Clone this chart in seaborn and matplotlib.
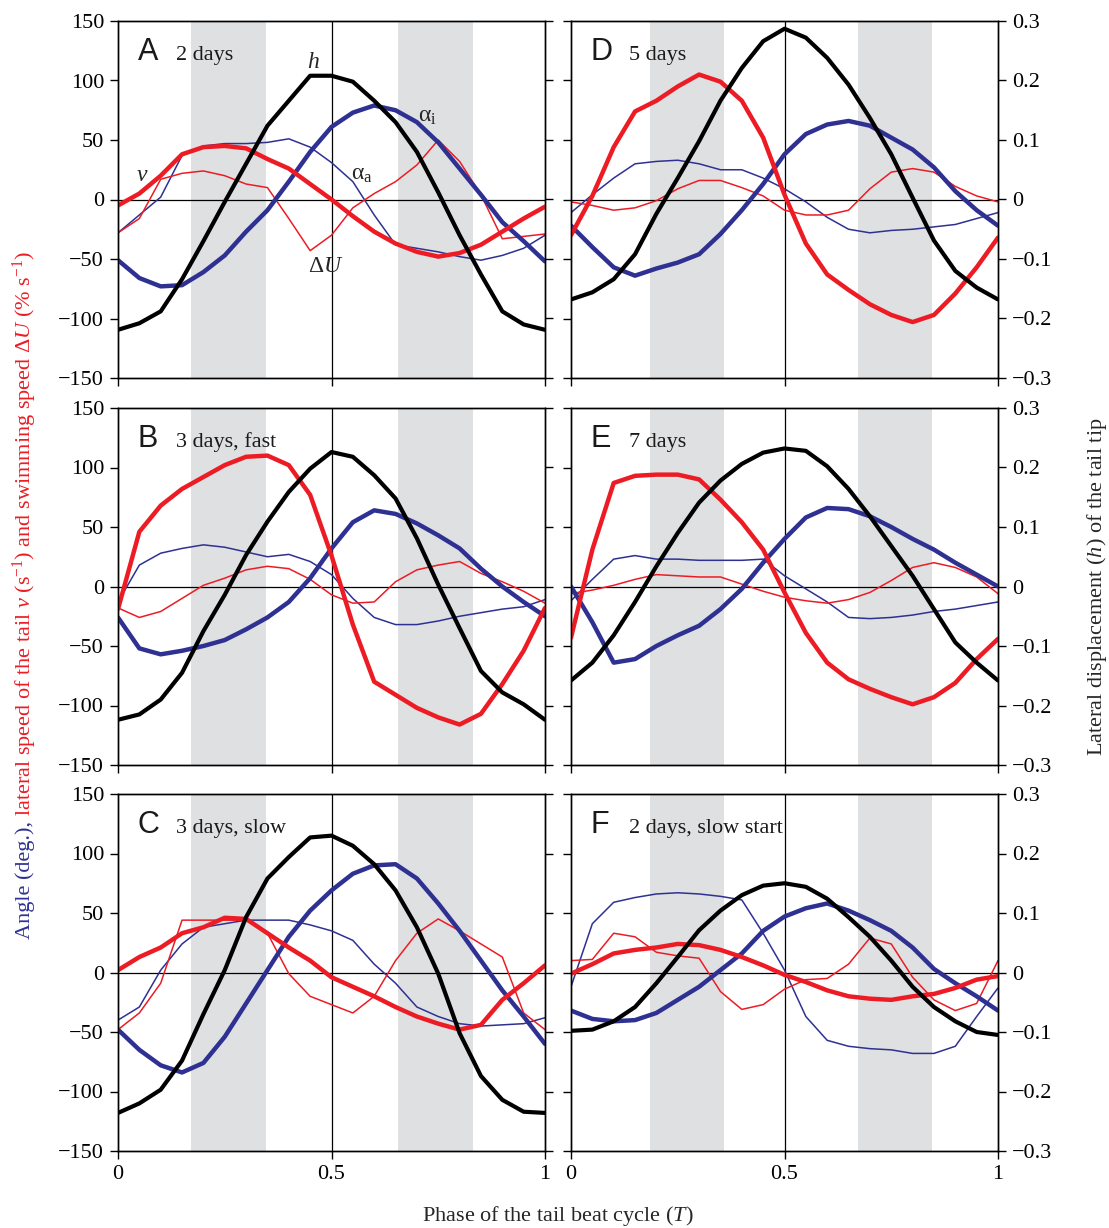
import numpy as np
import pandas as pd
import seaborn as sns
import matplotlib.pyplot as plt

# phase of the tail beat cycle, common sampling for every curve
phase = np.round(np.arange(0, 1.0001, 0.05), 2)

# ---- A: 2 days
a_h = [-0.219, -0.208, -0.188, -0.134, -0.07, -0.004, 0.06, 0.124, 0.166, 0.208, 0.208,
       0.198, 0.166, 0.13, 0.08, 0.012, -0.06, -0.126, -0.188, -0.21, -0.219]
a_ai = [-51, -66, -73, -72, -61, -47, -27, -9, 15, 40, 61, 73, 79, 75, 65, 48, 26, 4, -19, -35, -52]
a_aa = [-28, -13, 2, 37, 45, 47, 47, 48, 51, 44, 31, 15, -13, -38, -41, -44, -48, -51, -47, -41, -30]
a_v = [-5, 5, 20, 38, 44, 45, 43, 34, 26, 13, 0, -14, -27, -37, -44, -48, -45, -38, -27, -16, -6]
a_du = [-28, -16, 17, 22, 24, 20, 13, 10, -16, -43, -30, -7, 5, 15, 29, 50, 32, 4, -33, -31, -29]

# ---- B: 3 days, fast
b_h = [-0.224, -0.215, -0.19, -0.145, -0.075, -0.014, 0.053, 0.109, 0.159, 0.198, 0.226,
       0.218, 0.187, 0.148, 0.081, 0.003, -0.07, -0.142, -0.178, -0.198, -0.224]
b_ai = [-26, -52, -57, -54, -50, -45, -36, -26, -13, 7, 32, 54, 64, 61, 53, 43, 32, 15, 0, -13, -25]
b_aa = [-13, 18, 28, 32, 35, 33, 29, 25, 27, 21, 10, -10, -26, -32, -32, -29, -25, -22, -19, -17, -11]
b_v = [-19, 46, 68, 82, 92, 102, 109, 110, 102, 77, 26, -32, -80, -91, -102, -110, -116, -107, -82, -54, -18]
b_du = [-18, -26, -21, -10, 1, 7, 14, 17, 15, 6, -7, -14, -13, 4, 14, 18, 21, 11, 4, -4, -14]

# ---- C: 3 days, slow
c_h = [-0.236, -0.22, -0.197, -0.148, -0.07, 0.004, 0.093, 0.158, 0.194, 0.227, 0.23,
       0.213, 0.182, 0.138, 0.076, -0.002, -0.102, -0.174, -0.214, -0.234, -0.236]
c_ai = [-48, -65, -78, -84, -76, -54, -26, 2, 30, 52, 69, 83, 90, 91, 79, 58, 35, 10, -15, -37, -60]
c_aa = [-40, -29, 2, 24, 38, 41, 44, 44, 44, 40, 35, 27, 7, -9, -29, -37, -43, -45, -44, -43, -38]
c_v = [2, 13, 21, 33, 38, 46, 45, 33, 21, 10, -4, -12, -20, -29, -37, -43, -48, -44, -23, -9, 6]
c_du = [-48, -34, -9, 44, 44, 44, 44, 33, -1, -20, -27, -34, -20, 10, 33, 45, 35, 24, 13, -34, -48]

# ---- D: 5 days
d_h = [-0.168, -0.156, -0.134, -0.092, -0.024, 0.036, 0.098, 0.166, 0.221, 0.266, 0.287,
       0.272, 0.238, 0.193, 0.137, 0.076, 0.003, -0.069, -0.12, -0.148, -0.168]
d_ai = [-22, -40, -57, -64, -58, -53, -46, -29, -9, 13, 38, 55, 63, 66, 62, 52, 42, 27, 7, -9, -22]
d_aa = [-11, 4, 18, 30, 32, 33, 30, 25, 25, 18, 9, -2, -15, -25, -28, -26, -25, -23, -21, -16, -11]
d_v = [-30, 3, 44, 74, 83, 95, 105, 99, 83, 52, 4, -37, -63, -76, -88, -97, -103, -97, -79, -57, -32]
d_du = [-2, -5, -9, -7, -1, 9, 16, 16, 10, 3, -9, -13, -13, -9, 9, 23, 26, 23, 11, 3, -2]

# ---- E: 7 days
e_h = [-0.158, -0.128, -0.082, -0.026, 0.034, 0.09, 0.141, 0.178, 0.206, 0.225, 0.232,
       0.228, 0.202, 0.164, 0.118, 0.068, 0.018, -0.038, -0.094, -0.128, -0.158]
e_ai = [0, -30, -64, -61, -50, -41, -33, -19, -2, 20, 40, 58, 66, 65, 59, 50, 40, 31, 20, 10, 0]
e_aa = [-12, 6, 23, 26, 23, 23, 22, 22, 22, 23, 9, -2, -13, -26, -27, -26, -24, -21, -19, -16, -13]
e_v = [-43, 31, 87, 93, 94, 94, 90, 73, 54, 31, -5, -39, -64, -78, -86, -93, -99, -93, -81, -61, -44]
e_du = [-6, -3, 1, 6, 10, 9, 8, 8, 2, -4, -9, -12, -14, -11, -5, 5, 16, 20, 16, 8, -6]

# ---- F: 2 days, slow start
f_h = [-0.098, -0.096, -0.082, -0.058, -0.018, 0.026, 0.071, 0.104, 0.13, 0.146, 0.15,
       0.144, 0.124, 0.093, 0.06, 0.02, -0.024, -0.058, -0.082, -0.1, -0.105]
f_ai = [-32, -39, -41, -40, -34, -23, -12, 2, 16, 35, 47, 54, 58, 52, 44, 35, 21, 3, -9, -20, -32]
f_aa = [-12, 41, 59, 63, 66, 67, 66, 64, 61, 33, 2, -37, -57, -62, -64, -65, -68, -68, -62, -37, -13]
f_v = [-1, 7, 16, 19, 21, 24, 23, 19, 13, 6, -2, -8, -15, -20, -22, -23, -20, -18, -13, -6, -3]
f_du = [10, 11, 33, 30, 17, 14, 12, -16, -31, -27, -14, -6, -5, 7, 29, 24, -4, -23, -32, -26, 10]

panel_letters = ["A", "B", "C", "D", "E", "F"]
panel_titles = ["2 days", "3 days, fast", "3 days, slow", "5 days", "7 days", "2 days, slow start"]
panel_data = [(a_h, a_ai, a_aa, a_v, a_du), (b_h, b_ai, b_aa, b_v, b_du), (c_h, c_ai, c_aa, c_v, c_du),
              (d_h, d_ai, d_aa, d_v, d_du), (e_h, e_ai, e_aa, e_v, e_du), (f_h, f_ai, f_aa, f_v, f_du)]

# shaded parts of the cycle (left column, right column)
bands_left = [(0.171, 0.346), (0.656, 0.831)]
bands_right = [(0.184, 0.359), (0.671, 0.846)]

left_ticks = [-150, -100, -50, 0, 50, 100, 150]
right_ticks = [-0.3, -0.2, -0.1, 0, 0.1, 0.2, 0.3]
right_labels = ["\u22120.3", "\u22120.2", "\u22120.1", "0", "0.1", "0.2", "0.3"]
x_ticks = [0, 0.5, 1]
x_labels = ["0", "0.5", "1"]

RED = "#ED1C24"
BLUE = "#2E3192"
GREY = "#DFE0E2"

sns.set_theme(style="ticks")
plt.rcParams["font.family"] = ["Liberation Serif", "DejaVu Serif"]
plt.rcParams["mathtext.fontset"] = "custom"
plt.rcParams["mathtext.rm"] = "Liberation Serif"
plt.rcParams["mathtext.it"] = "Liberation Serif:italic"
plt.rcParams["axes.linewidth"] = 1.0
plt.rcParams["lines.solid_joinstyle"] = "round"
plt.rcParams["lines.solid_capstyle"] = "round"

fig = plt.figure(figsize=(11.09, 12.28), dpi=100)

col_left = [118 / 1109, 571 / 1109]
width = 427 / 1109
row_bottom = [1 - 378 / 1228, 1 - 765 / 1228, 1 - 1151 / 1228]
height = 357 / 1228

for i in range(6):
    col, row = i // 3, i % 3
    ax = fig.add_axes([col_left[col], row_bottom[row], width, height])
    h, ai, aa, v, du = panel_data[i]
    bands = bands_left if col == 0 else bands_right
    for b0, b1 in bands:
        ax.axvspan(b0, b1, color=GREY, lw=0, zorder=0)
    ax.axvline(0.5, color="black", lw=0.9, zorder=1)
    ax.axhline(0, color="black", lw=0.9, zorder=1)

    df = pd.DataFrame({"phase": phase, "ai": ai, "aa": aa, "v": v, "du": du})
    sns.lineplot(data=df, x="phase", y="aa", ax=ax, color=BLUE, lw=1.1, zorder=2)
    sns.lineplot(data=df, x="phase", y="du", ax=ax, color=RED, lw=1.1, zorder=2)
    sns.lineplot(data=df, x="phase", y="ai", ax=ax, color=BLUE, lw=3.2, zorder=3)
    sns.lineplot(data=df, x="phase", y="v", ax=ax, color=RED, lw=3.2, zorder=3)

    ax2 = ax.twinx()
    sns.lineplot(x=phase, y=h, ax=ax2, color="black", lw=3.0)

    ax.set_xlim(0, 1)
    ax.set_ylim(-150, 150)
    ax2.set_ylim(-0.3, 0.3)
    ax.set_xlabel("")
    ax.set_ylabel("")
    ax2.set_ylabel("")
    ax.set_xticks(x_ticks)
    ax.set_xticklabels(x_labels if row == 2 else [])
    ax.set_yticks(left_ticks)
    ax.set_yticklabels([str(t).replace("-", "\u2212") for t in left_ticks] if col == 0 else [])
    ax2.set_yticks(right_ticks)
    ax2.set_yticklabels(right_labels if col == 1 else [])
    for a in (ax, ax2):
        a.tick_params(direction="out", length=6, width=1, labelsize=16, colors="black", pad=4)
        for s in a.spines.values():
            s.set_visible(True)
            s.set_color("black")
            s.set_linewidth(1.0)

    ax.text(0.046, 0.89, panel_letters[i], transform=ax.transAxes, fontsize=22,
            family="Liberation Sans", color="#1a1a1a", va="baseline")
    ax.text(0.135, 0.89, panel_titles[i], transform=ax.transAxes, fontsize=16,
            color="#1a1a1a", va="baseline")

    if i == 0:
        ax.text(0.457, 115, "$h$", fontsize=17, ha="center", va="center")
        ax.text(0.725, 70, "\u03b1$_\\mathrm{i}$", fontsize=17, ha="center", va="center")
        ax.text(0.57, 21, "\u03b1$_\\mathrm{a}$", fontsize=17, ha="center", va="center")
        ax.text(0.487, -56, "\u0394$U$", fontsize=17, ha="center", va="center")
        ax.text(0.057, 20, "$v$", fontsize=17, ha="center", va="center")

# axis titles
fig.text(558 / 1109, 1 - 1216 / 1228, "Phase of the tail beat cycle ($T$)", fontsize=16,
         ha="center", va="center")
fig.text(1097 / 1109, 1 - 587 / 1228, "Lateral displacement ($h$) of the tail tip", fontsize=16,
         rotation=90, ha="center", va="center")

# two-coloured left label, stacked bottom to top
parts = [("Angle (deg.),", BLUE),
         ("lateral speed of the tail $v$ (s$^{-1}$) and swimming speed \u0394$U$ (% s$^{-1}$)", RED)]
renderer = fig.canvas.get_renderer()
objs = [fig.text(25 / 1109, 0, s, color=c, fontsize=16, rotation=90, ha="center", va="bottom")
        for s, c in parts]
lengths = [o.get_window_extent(renderer).height for o in objs]
gap = 5
total = sum(lengths) + gap
y0 = (1 - 595 / 1228) * fig.bbox.height - total / 2
for o, ln in zip(objs, lengths):
    o.set_position((25 / 1109, y0 / fig.bbox.height))
    y0 += ln + gap

plt.savefig("out.png", dpi=100)
plt.close()
